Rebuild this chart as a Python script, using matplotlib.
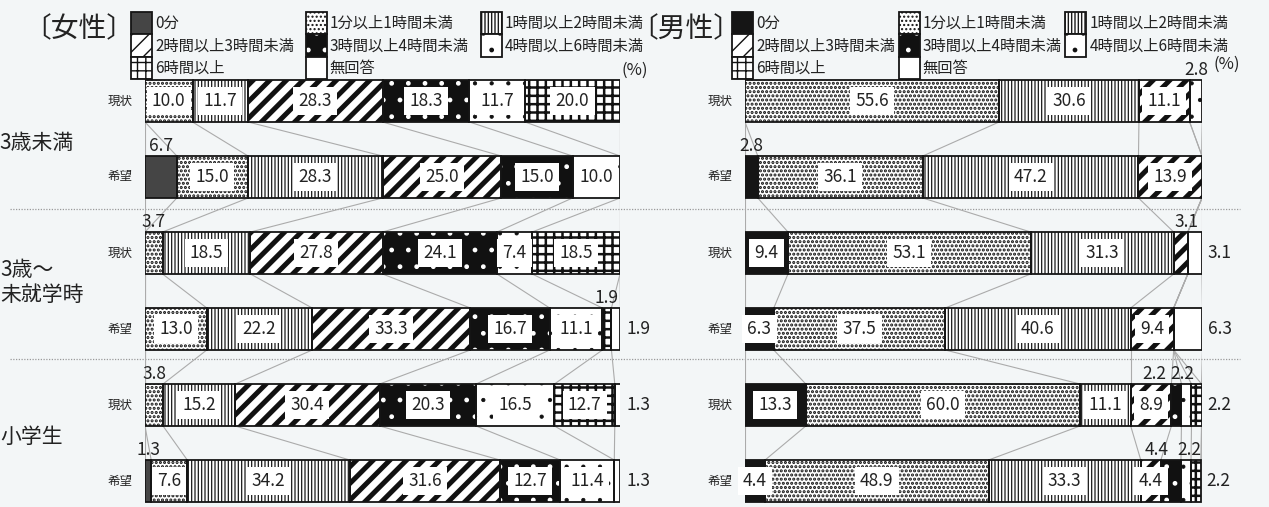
import numpy as np
import matplotlib.pyplot as plt
import matplotlib.transforms as mtransforms
from matplotlib.patches import Patch

plt.rcParams['font.family'] = ['Noto Sans CJK JP', 'DejaVu Sans']

# ---- data -------------------------------------------------------------
categories = ['0分', '1分以上1時間未満', '1時間以上2時間未満', '2時間以上3時間未満',
              '3時間以上4時間未満', '4時間以上6時間未満', '6時間以上', '無回答']
row_labels = ['現状', '希望', '現状', '希望', '現状', '希望']
group_labels = ['3歳未満', '3歳〜\n未就学時', '小学生']

# rows: 3歳未満 現状/希望, 3歳〜未就学時 現状/希望, 小学生 現状/希望
female = [
    [0.0, 10.0, 11.7, 28.3, 18.3, 11.7, 20.0, 0.0],
    [6.7, 15.0, 28.3, 25.0, 15.0, 10.0, 0.0, 0.0],
    [0.0, 3.7, 18.5, 27.8, 24.1, 7.4, 18.5, 0.0],
    [0.0, 13.0, 22.2, 33.3, 16.7, 11.1, 1.9, 1.9],
    [0.0, 3.8, 15.2, 30.4, 20.3, 16.5, 12.7, 1.3],
    [1.3, 7.6, 34.2, 31.6, 12.7, 11.4, 0.0, 1.3],
]
male = [
    [0.0, 55.6, 30.6, 11.1, 0.0, 2.8, 0.0, 0.0],
    [2.8, 36.1, 47.2, 13.9, 0.0, 0.0, 0.0, 0.0],
    [9.4, 53.1, 31.3, 3.1, 0.0, 0.0, 0.0, 3.1],
    [6.3, 37.5, 40.6, 9.4, 0.0, 0.0, 0.0, 6.3],
    [13.3, 60.0, 11.1, 8.9, 2.2, 2.2, 2.2, 0.0],
    [4.4, 48.9, 33.3, 4.4, 4.4, 2.2, 2.2, 0.0],
]

# labels drawn outside their segment: (row, category) -> (where, x shift in px)
female_outside = {(1, 0): ('above', 0), (2, 1): ('above', 0), (3, 6): ('above', 0),
                  (3, 7): ('right', 0), (4, 1): ('above', 0), (4, 7): ('right', 0),
                  (5, 0): ('above', 0), (5, 7): ('right', 0)}
male_outside = {(0, 5): ('above', 0), (1, 0): ('above', 0), (2, 3): ('above', 6),
                (2, 7): ('right', 0), (3, 7): ('right', 0),
                (4, 4): ('above', -22), (4, 5): ('above', -4), (4, 6): ('right', 0),
                (5, 4): ('above', -14), (5, 5): ('above', 3), (5, 6): ('right', 0)}

# ---- styles -----------------------------------------------------------
BG = '#f3f6f7'
EDGE = '#151515'
# facecolor, hatch colour, hatch, hatch linewidth
styles = [
    ('#454545', '#454545', None, 1.0),
    ('white', '#111111', '....', 1.5),
    ('white', '#1a1a1a', '|||||', 0.9),
    ('white', '#111111', '//', 3.6),
    ('#111111', 'white', '.', 1.0),
    ('white', '#111111', '.', 0.6),
    ('white', '#111111', '++', 1.8),
    ('white', 'white', None, 1.0),
]

W, H = 1269, 507
fig = plt.figure(figsize=(W / 100, H / 100), dpi=100)
fig.patch.set_facecolor(BG)

PX_ROW = 76.0
Y0 = 101.0
bar_h = 42 / PX_ROW


def fx(px):
    return px / W


def fy(py):
    return 1 - py / H


def style_for(k, zero_fc):
    fc, hc, hatch, hlw = styles[k]
    if k == 0:
        fc = hc = zero_fc
    return fc, hc, hatch, hlw


def draw_panel(left_px, right_px, data, outside, zero_fc):
    ax = fig.add_axes([fx(left_px), 0, fx(right_px - left_px), 1])
    ax.set_xlim(0, 100)
    ax.set_ylim((H - Y0) / PX_ROW, -Y0 / PX_ROW)
    ax.axis('off')

    data = np.array(data)
    y = np.arange(len(data))
    left = np.zeros(len(data))
    cum = [left.copy()]
    for k in range(len(categories)):
        vals = data[:, k]
        m = vals > 0
        fc, hc, hatch, hlw = style_for(k, zero_fc)
        if m.any():
            with plt.rc_context({'hatch.linewidth': hlw}):
                bars = ax.barh(y[m], vals[m], left=left[m], height=bar_h,
                               color=fc, edgecolor=hc, hatch=hatch, linewidth=0, zorder=2)
            for b in bars:
                if hasattr(b, 'set_hatch_linewidth'):
                    b.set_hatch_linewidth(hlw)
            ax.barh(y[m], vals[m], left=left[m], height=bar_h, fill=False,
                    edgecolor=EDGE, linewidth=1.3, zorder=3)
        left = left + vals
        cum.append(left.copy())

    # connecting lines between consecutive bars
    for i in range(len(data) - 1):
        for c in cum:
            ax.plot([c[i], c[i + 1]], [y[i] + bar_h / 2, y[i + 1] - bar_h / 2],
                    color='#ababab', lw=0.8, zorder=1)

    # value labels
    for i in range(len(data)):
        for k in range(len(categories)):
            v = data[i, k]
            if v <= 0:
                continue
            x0, x1 = cum[k][i], cum[k + 1][i]
            where = outside.get((i, k))
            txt = f'{v:.1f}'
            if where is None:
                ax.text((x0 + x1) / 2, y[i], txt, ha='center', va='center',
                        fontsize=12.5, color='#222222', zorder=5,
                        bbox=dict(boxstyle='square,pad=0.3', fc='white', ec='none'))
            elif where[0] == 'above':
                ax.annotate(txt, ((x0 + x1) / 2, y[i] - bar_h / 2),
                            xytext=(where[1] * 0.72, 0.5), textcoords='offset points',
                            ha='center', va='bottom', fontsize=12.5, color='#222222',
                            annotation_clip=False, zorder=5)
            else:
                ax.annotate(txt, (x1, y[i]), xytext=(4, 0), textcoords='offset points',
                            ha='left', va='center', fontsize=12.5, color='#222222',
                            annotation_clip=False, zorder=5)

    # row labels
    for i, lab in enumerate(row_labels):
        ax.annotate(lab, (0, y[i]), xytext=(-9, 0), textcoords='offset points',
                    ha='right', va='center', fontsize=9, color='#222222',
                    annotation_clip=False)
    return ax


ax_f = draw_panel(145, 620, female, female_outside, '#454545')
ax_m = draw_panel(745, 1202, male, male_outside, '#151515')

# dotted separators between age groups
for ysep in [1.42, 3.39]:
    tr = mtransforms.blended_transform_factory(fig.transFigure, ax_f.transData)
    ax_f.plot([fx(10), fx(1240)], [ysep, ysep], transform=tr, color='#9a9a9a',
              lw=0.9, linestyle=(0, (1, 1.2)), clip_on=False, zorder=0)

# age group labels
trg = mtransforms.blended_transform_factory(fig.transFigure, ax_f.transData)
for lab, yy, xx in zip(group_labels, [0.55, 2.39, 4.42], [-1, 0, 0]):
    ax_f.text(fx(xx), yy, lab, transform=trg, ha='left', va='center',
              fontsize=15, color='#222222', linespacing=1.15)


# legends
def legend_handles(zero_fc):
    hs = []
    for k in range(len(categories)):
        fc, hc, hatch, hlw = style_for(k, zero_fc)
        p = Patch(facecolor=fc, edgecolor=hc, hatch=hatch, linewidth=0)
        if hasattr(p, 'set_hatch_linewidth'):
            p.set_hatch_linewidth(hlw)
        hs.append((p, Patch(fill=False, edgecolor=EDGE, linewidth=1.3)))
    return hs


order = [0, 3, 6, 1, 4, 7, 2, 5]
for ax, xpx, zero_fc, cs in [(ax_f, 131, '#454545', 0.78), (ax_m, 732, '#151515', 0.25)]:
    hs = legend_handles(zero_fc)
    leg = ax.legend([hs[i] for i in order], [categories[i] for i in order], ncol=3,
                    loc='upper left', bbox_to_anchor=(fx(xpx), fy(12)),
                    bbox_transform=fig.transFigure, frameon=False, fontsize=11,
                    borderpad=0, borderaxespad=0, handlelength=1.37, handleheight=1.87,
                    handletextpad=0.2, columnspacing=cs, labelspacing=0.0)
    for t in leg.get_texts():
        t.set_color('#222222')

fig.text(fx(79), fy(29), '〔女性〕', ha='center', va='center', fontsize=20, color='#222222')
fig.text(fx(686), fy(29), '〔男性〕', ha='center', va='center', fontsize=20, color='#222222')
fig.text(fx(648), fy(70), '(%)', ha='right', va='center', fontsize=12, color='#222222')
fig.text(fx(1240), fy(64), '(%)', ha='right', va='center', fontsize=12, color='#222222')

fig.savefig('out.png', dpi=100, facecolor=BG)
